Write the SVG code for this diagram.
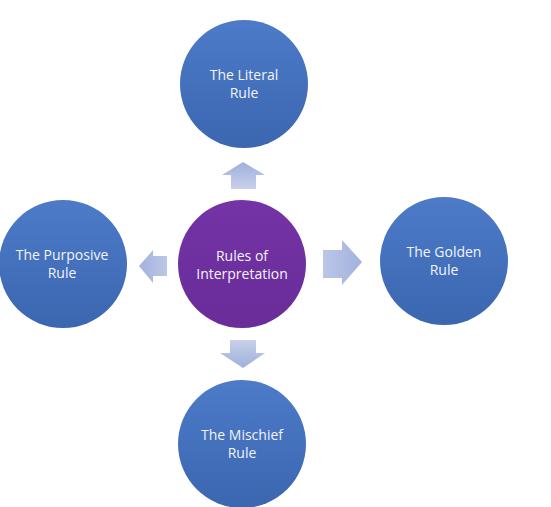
<svg xmlns="http://www.w3.org/2000/svg" width="551" height="507" viewBox="0 0 551 507">
  <defs>
    <linearGradient id="gBlue" x1="0" y1="0" x2="0" y2="1">
      <stop offset="0" stop-color="#4d7bc8"/>
      <stop offset="1" stop-color="#3b66b0"/>
    </linearGradient>
    <linearGradient id="gPurple" x1="0" y1="0" x2="0" y2="1">
      <stop offset="0" stop-color="#7433a6"/>
      <stop offset="1" stop-color="#692c98"/>
    </linearGradient>
    <linearGradient id="aUp" x1="0" y1="1" x2="0" y2="0">
      <stop offset="0" stop-color="#c8d0ea"/>
      <stop offset="1" stop-color="#9fb0dc"/>
    </linearGradient>
    <linearGradient id="aDown" x1="0" y1="0" x2="0" y2="1">
      <stop offset="0" stop-color="#c8d0ea"/>
      <stop offset="1" stop-color="#9fb0dc"/>
    </linearGradient>
    <linearGradient id="aLeft" x1="1" y1="0" x2="0" y2="0">
      <stop offset="0" stop-color="#bcc6e7"/>
      <stop offset="1" stop-color="#a2b2dd"/>
    </linearGradient>
    <linearGradient id="aRight" x1="0" y1="0" x2="1" y2="0">
      <stop offset="0" stop-color="#bcc6e7"/>
      <stop offset="1" stop-color="#a2b2dd"/>
    </linearGradient>
  </defs>
  <style>
    .blue { fill: url(#gBlue); }
    .purple { fill: url(#gPurple); }
    .lbl { font-family: "Open Sans", "Liberation Sans", sans-serif; font-size: 14px; fill: #f2f4fb; text-anchor: middle; }
  </style>
  <rect width="551" height="507" fill="#ffffff"/>

  <g id="connectors">
    <path id="arrow-up" fill="url(#aUp)" d="M243,162 L265,175 L256,175 L256,189 L231,189 L231,175 L222,175 Z"/>
    <path id="arrow-down" fill="url(#aDown)" d="M230,340 L256,340 L256,353 L265,353 L243,368 L220,353 L230,353 Z"/>
    <path id="arrow-left" fill="url(#aLeft)" d="M139,266 L153,250 L153,256 L167,256 L167,276 L153,276 L153,283 Z"/>
    <path id="arrow-right" fill="url(#aRight)" d="M323,250 L342,250 L342,240 L362,262 L342,285 L342,278 L323,278 Z"/>
  </g>

  <g id="node-center">
    <circle class="purple" cx="242" cy="264" r="64"/>
    <text class="lbl" x="242" y="261">Rules of</text>
    <text class="lbl" x="242" y="279">Interpretation</text>
  </g>

  <g id="node-literal">
    <circle class="blue" cx="244" cy="84" r="64"/>
    <text class="lbl" x="244" y="80">The Literal</text>
    <text class="lbl" x="244" y="98">Rule</text>
  </g>

  <g id="node-purposive">
    <circle class="blue" cx="63" cy="264" r="64"/>
    <text class="lbl" x="62" y="260">The Purposive</text>
    <text class="lbl" x="62" y="278">Rule</text>
  </g>

  <g id="node-golden">
    <circle class="blue" cx="444" cy="261" r="64"/>
    <text class="lbl" x="444" y="257">The Golden</text>
    <text class="lbl" x="444" y="275">Rule</text>
  </g>

  <g id="node-mischief">
    <circle class="blue" cx="242" cy="444" r="64"/>
    <text class="lbl" x="242" y="440">The Mischief</text>
    <text class="lbl" x="242" y="458">Rule</text>
  </g>
</svg>
